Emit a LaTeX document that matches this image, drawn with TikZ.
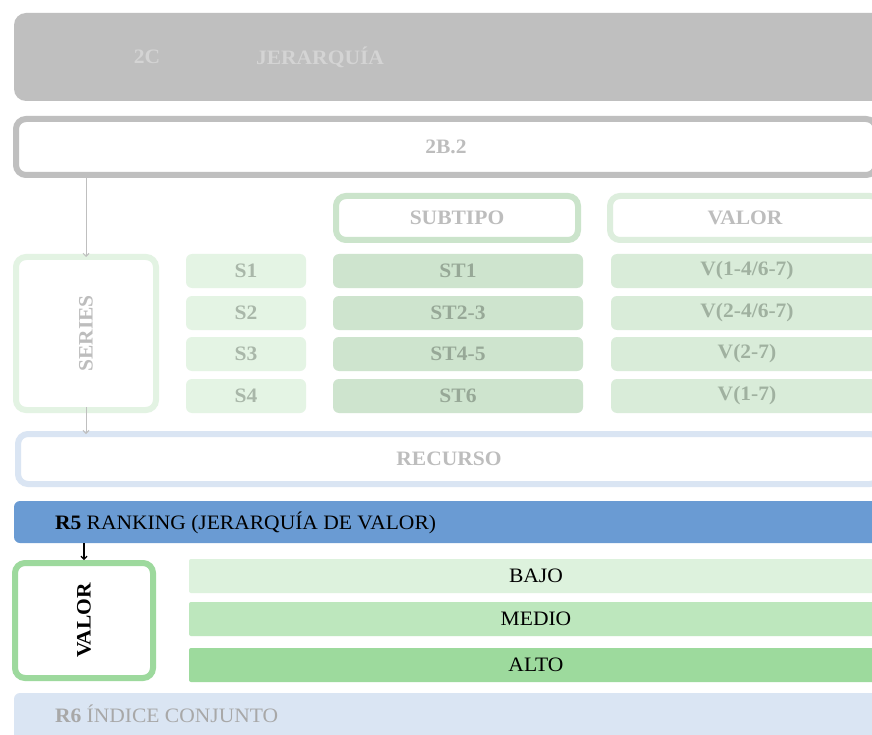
\documentclass[tikz,border=0pt]{standalone}
\usepackage{fontspec}
\setmainfont[FakeStretch=1.05]{Liberation Serif}
\usetikzlibrary{arrows.meta,calc}
\definecolor{topgray}{HTML}{BFBFBF}
\definecolor{toptext}{HTML}{D4D4D4}
\definecolor{hdrtext}{HTML}{BDBDBD}
\definecolor{subbord}{HTML}{CBE4CB}
\definecolor{valbord}{HTML}{DDEEDD}
\definecolor{serbord}{HTML}{E3F3E3}
\definecolor{sfill}{HTML}{E4F4E4}
\definecolor{stfill}{HTML}{CEE4CE}
\definecolor{vfill}{HTML}{D9ECD9}
\definecolor{stext}{HTML}{A9B7A9}
\definecolor{sttext}{HTML}{97A897}
\definecolor{vtext}{HTML}{A0B1A0}
\definecolor{recbord}{HTML}{DAE5F3}
\definecolor{rfive}{HTML}{6A9BD3}
\definecolor{valgreen}{HTML}{9DD99D}
\definecolor{bajo}{HTML}{DDF2DD}
\definecolor{medio}{HTML}{BDE7BD}
\definecolor{alto}{HTML}{9DDA9D}
\definecolor{rsix}{HTML}{DAE5F3}
\definecolor{rsixtext}{HTML}{A8A8A8}
\tikzset{
  every node/.style={inner sep=0pt, outer sep=0pt},
  txt/.style={font=\fontsize{20.5}{24}\selectfont},
  btxt/.style={font=\fontsize{20.5}{24}\selectfont\bfseries},
  framebox/.style={draw, line width=6pt, fill=white, rounded corners=10pt, anchor=north west},
  cellbox/.style={rounded corners=6pt, anchor=north west, minimum height=34pt, btxt},
  barbox/.style={anchor=north west, minimum height=34pt, txt, rounded corners=2pt},
  grayarrow/.style={draw=topgray, line width=1pt, -{Straight Barb[length=3pt,width=6pt]}},
  blackarrow/.style={draw=black, line width=1.2pt, -{Straight Barb[length=3pt,width=6pt]}}
}
\begin{document}
\begin{tikzpicture}[x=1pt,y=-1pt]
\useasboundingbox (0,0) rectangle (872,735);
\clip (0,0) rectangle (872,735);
\fill[white] (0,0) rectangle (872,735);
% top
\node[fill=topgray, rounded corners=12pt, anchor=north west, minimum width=880pt, minimum height=88pt] (top) at (14,13) {};
\node[btxt, text=toptext] (tc) at (147,57) {2C};
\node[btxt, text=toptext] (tj) at (320,57) {JERARQUÍA};
% 2B.2
\node[framebox, draw=topgray, minimum width=860pt, minimum height=56pt, btxt, text=hdrtext] (b2) at (16,119) {2B.2};
% headers
\node[framebox, draw=subbord, minimum width=242pt, minimum height=44pt, btxt, text=hdrtext] (sub) at (336,196) {SUBTIPO};
\node[framebox, draw=valbord, minimum width=270pt, minimum height=44pt, btxt, text=hdrtext] (valh) at (610,196) {VALOR};
% series
\node[framebox, draw=serbord, minimum width=140pt, minimum height=153pt] (series) at (16,257) {};
\node[btxt, text=hdrtext, rotate=90] (sertext) at (series.center) {SERIES};
% cells
\foreach \i/\y/\s/\st/\v in {1/254/S1/ST1/{V(1-4/6-7)}, 2/296/S2/ST2-3/{V(2-4/6-7)}, 3/337/S3/ST4-5/{V(2-7)}, 4/379/S4/ST6/{V(1-7)}}{
  \node[cellbox, fill=sfill, text=stext, minimum width=120pt] (s\i) at (186,\y) {\s};
  \node[cellbox, fill=stfill, text=sttext, minimum width=250pt] (st\i) at (333,\y) {\st};
  \node[cellbox, fill=vfill, text=vtext, minimum width=272pt] (v\i) at (611,\y) {\v};
}
% recurso
\node[framebox, draw=recbord, minimum width=862pt, minimum height=50pt, btxt, text=hdrtext] (rec) at (18,434) {RECURSO};
% arrows
\draw[grayarrow] (series.north |- b2.south) -- (series.north);
\draw[grayarrow] ($(series.south)+(0,-3)$) -- (series.south |- rec.north);
% R5
\node[fill=rfive, rounded corners=6pt, anchor=north west, minimum width=880pt, minimum height=42pt] (r5) at (14,501) {};
\node[txt, anchor=west] (r5t) at (55,523) {\textbf{R5} RANKING (JERARQUÍA DE VALOR)};
% valor box
\node[framebox, draw=valgreen, minimum width=138pt, minimum height=115pt] (valor) at (15,563) {};
\node[btxt, rotate=90] (valtext) at (valor.center) {VALOR};
\draw[blackarrow] (valor.north |- r5.south) -- ($(valor.north)+(0,-3)$);
% bars
\node[barbox, fill=bajo, minimum width=694pt] (bajo) at (189,559) {BAJO};
\node[barbox, fill=medio, minimum width=694pt] (medio) at (189,602) {MEDIO};
\node[barbox, fill=alto, minimum width=694pt] (alto) at (189,648) {ALTO};
% R6
\node[fill=rsix, rounded corners=6pt, anchor=north west, minimum width=880pt, minimum height=52pt] (r6) at (14,693) {};
\node[txt, anchor=west, text=rsixtext] (r6t) at (55,714) {\textbf{R6} ÍNDICE CONJUNTO};
\end{tikzpicture}
\end{document}
